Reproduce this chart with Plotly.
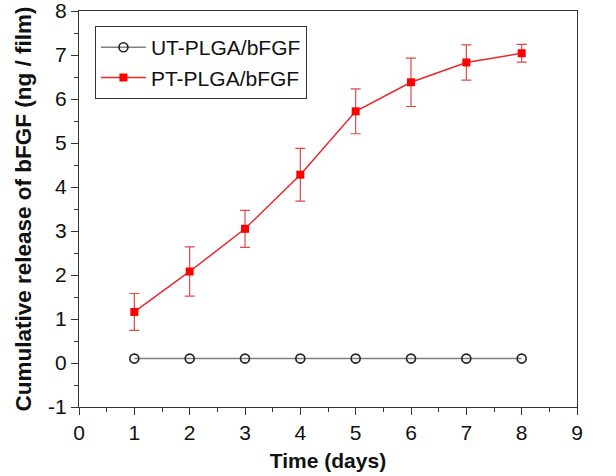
import plotly.graph_objects as go

# Release profile of bFGF from PLGA films
days = [1, 2, 3, 4, 5, 6, 7, 8]
ut_release = [0.1, 0.1, 0.1, 0.1, 0.1, 0.1, 0.1, 0.1]
pt_release = [1.16, 2.08, 3.05, 4.28, 5.72, 6.38, 6.83, 7.04]
pt_error = [0.42, 0.56, 0.42, 0.60, 0.51, 0.55, 0.40, 0.20]

x_ticks = list(range(0, 10))
y_ticks = list(range(-1, 9))
y_tick_labels = [str(v) for v in y_ticks]

font_family = "Liberation Sans, Arial, sans-serif"

fig = go.Figure()

fig.add_trace(go.Scatter(
    x=days, y=ut_release, name="UT-PLGA/bFGF",
    mode="lines+markers",
    line=dict(color="#808080", width=1.5),
    marker=dict(symbol="circle-open", size=9, color="#222222",
                line=dict(width=1.6, color="#222222")),
))

fig.add_trace(go.Scatter(
    x=days, y=pt_release, name="PT-PLGA/bFGF",
    mode="lines+markers",
    line=dict(color="#e8262b", width=1.5),
    marker=dict(symbol="square", size=8, color="#ff0000"),
    error_y=dict(type="data", array=pt_error, visible=True,
                 color="#e04848", thickness=1.2, width=5),
))

axis_common = dict(
    showgrid=False, zeroline=False, automargin=False,
    showline=True, linecolor="#333333", linewidth=1.2, mirror=True,
    ticks="outside", ticklen=7, tickwidth=1.2, tickcolor="#333333",
    ticklabeloverflow="allow",
    tickfont=dict(family=font_family, size=21, color="#111111"),
    minor=dict(ticks="outside", ticklen=4, tickwidth=1, tickcolor="#333333", dtick=0.5),
)

fig.update_xaxes(
    range=[0, 9], tickvals=x_ticks,
    title=dict(text="<b>Time (days)</b>", font=dict(family=font_family, size=21, color="#111111"),
               standoff=10),
    **axis_common,
)
fig.update_yaxes(
    range=[-1, 8], tickvals=y_ticks, ticktext=y_tick_labels,
    title=dict(text="<b>Cumulative release of bFGF (ng / film)</b>",
               font=dict(family=font_family, size=22.5, color="#111111"), standoff=10),
    **axis_common,
)

fig.update_layout(
    width=616, height=476,
    margin=dict(l=79, r=39, t=11, b=69),
    plot_bgcolor="white", paper_bgcolor="white",
    font=dict(family=font_family),
    legend=dict(
        x=0.032, y=0.962, xanchor="left", yanchor="top",
        bgcolor="white", bordercolor="#333333", borderwidth=1,
        font=dict(family=font_family, size=21, color="#111111"),
        tracegroupgap=0, itemwidth=45,
    ),
)

fig.write_html("out.html")
